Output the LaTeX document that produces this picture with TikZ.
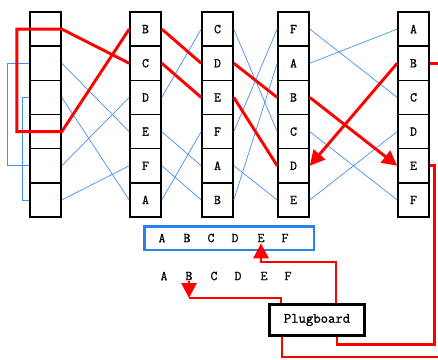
\documentclass[tikz,border=0pt]{standalone}
\usepackage{fontspec}
\newfontfamily\typefont[FakeBold=1]{Latin Modern Mono}
\usetikzlibrary{arrows.meta}
\definecolor{wred}{RGB}{255,0,0}
\definecolor{wblue}{RGB}{70,145,240}
\definecolor{boxblue}{RGB}{40,130,235}
\begin{document}
\begin{tikzpicture}[x=1pt,y=-1pt,
 cell/.style={draw,line width=1.6pt,minimum width=31pt,minimum height=34.17pt,inner sep=0pt,font=\fontsize{13.5}{13.5}\selectfont\typefont},
 wire/.style={wblue,line width=0.7pt},
 hot/.style={wred,line width=2.9pt},
 tip/.style={-{Triangle[length=15pt,width=15pt]}},
 lab/.style={font=\fontsize{13.5}{13.5}\selectfont\typefont,inner sep=1pt}]
\useasboundingbox (0,0) rectangle (438,359);
\fill[white] (0,0) rectangle (438,359);
\coordinate (edgeR) at (438,0);
\coordinate (edgeB) at (438,357);
% columns
\foreach \i in {1,...,6} \node[cell] (a\i) at (45.5,{12+34.17*(\i-0.5)}) {};
\foreach \i/\t in {1/B,2/C,3/D,4/E,5/F,6/A} \node[cell] (b\i) at (145.5,{12+34.17*(\i-0.5)}) {\t};
\foreach \i/\t in {1/C,2/D,3/E,4/F,5/A,6/B} \node[cell] (c\i) at (217.5,{12+34.17*(\i-0.5)}) {\t};
\foreach \i/\t in {1/F,2/A,3/B,4/C,5/D,6/E} \node[cell] (d\i) at (293.5,{12+34.17*(\i-0.5)}) {\t};
\foreach \i/\t in {1/A,2/B,3/C,4/D,5/E,6/F} \node[cell] (e\i) at (413.5,{12+34.17*(\i-0.5)}) {\t};
% blue wires
\draw[wire] (a2.east) -- (b4.west);
\draw[wire] (a3.east) -- (b6.west);
\draw[wire] (a5.east) -- (b3.west);
\draw[wire] (a6.east) -- (b5.west);
\draw[wire] (a2.west) -- ++(-22,0) |- (a5.west);
\draw[wire] (a3.west) -- ++(-7,0) |- (a6.west);
\draw[wire] (b3.east) -- (c1.west);
\draw[wire] (b4.east) -- (c5.west);
\draw[wire] (b5.east) -- (c6.west);
\draw[wire] (b6.east) -- (c4.west);
\draw[wire] (c1.east) -- (d4.west);
\draw[wire] (c4.east) -- (d1.west);
\draw[wire] (c5.east) -- (d6.west);
\draw[wire] (c6.east) -- (d2.west);
\draw[wire] (d1.east) -- (e3.west);
\draw[wire] (d2.east) -- (e1.west);
\draw[wire] (d4.east) -- (e6.west);
\draw[wire] (d6.east) -- (e4.west);
% red path
\draw[hot] (b2.west) -- (a1.east) -- ++(-45,0) |- (a4.east) -- (b1.west);
\draw[hot] (b1.east) -- (c2.west);
\draw[hot] (b2.east) -- (c3.west);
\draw[hot] (c2.east) -- (d3.west);
\draw[hot] (c3.east) -- (d5.west);
\draw[hot,tip] (d3.east) -- (e5.west);
\draw[hot,tip] (e2.west) -- (d5.east);
\draw[hot] (e2.east) -- (e2.east -| edgeR);
% lamp row and keyboard
\foreach \t/\x in {A/162,B/187,C/211,D/235,E/261,F/285} \node[lab] (r\t) at (\x,238) {\t};
\node[draw=boxblue,line width=2.5pt,minimum width=169.5pt,minimum height=23.5pt,inner sep=0pt] (rbox) at (229,238) {};
\foreach \t/\x in {A/164,B/189,C/214,D/238,E/264,F/288} \node[lab] (k\t) at (\x,276) {\t};
% plugboard
\node[draw,line width=3pt,minimum width=95pt,minimum height=31pt,inner sep=0pt,font=\fontsize{14.3}{14.3}\selectfont\typefont] (pb) at (317,320) {Plugboard};
\draw[hot] (e5.east) -- ++(5,0) -- ++(0,179) -| ([xshift=69pt]pb.south west);
\draw[hot] ([xshift=14pt]pb.south west) |- (edgeB);
\coordinate (j1) at (189,298);
\draw[hot,tip] (kB.south) -- (j1);
\draw[hot] (j1) -| ([xshift=13pt]pb.north west);
\draw[hot,tip] ([xshift=68pt]pb.north west) -- ++(0,-41) -| (rE.south);
\end{tikzpicture}
\end{document}
